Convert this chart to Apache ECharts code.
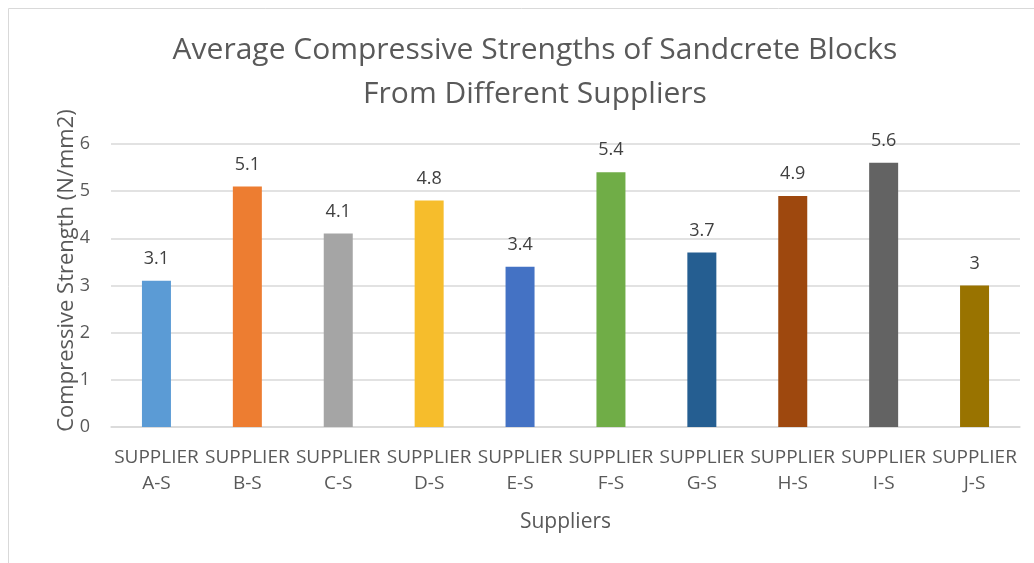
<!DOCTYPE html>
<html><head><meta charset="utf-8">
<script src="https://cdn.jsdelivr.net/npm/echarts@6/dist/echarts.min.js"></script>
<style>html,body{margin:0;padding:0;background:#fff}#c{width:1034px;height:563px}</style>
</head><body><div id="c"></div>
<script>
const categories = ["SUPPLIER\nA-S","SUPPLIER\nB-S","SUPPLIER\nC-S","SUPPLIER\nD-S","SUPPLIER\nE-S","SUPPLIER\nF-S","SUPPLIER\nG-S","SUPPLIER\nH-S","SUPPLIER\nI-S","SUPPLIER\nJ-S"];
const values = [3.1, 5.1, 4.1, 4.8, 3.4, 5.4, 3.7, 4.9, 5.6, 3];
const barColors = ["#5b9bd5","#ed7d31","#a5a5a5","#f6bd2c","#4472c4","#70ad47","#255e91","#9e480e","#636363","#997300"];
const titleText = "Average Compressive Strengths of Sandcrete Blocks\nFrom Different Suppliers";
const yName = "Compressive Strength (N/mm2)";
const xName = "Suppliers";
const font = "'Open Sans', sans-serif";
const chart = echarts.init(document.getElementById('c'));
chart.setOption({
  animation: false,
  graphic: [{type:'rect', shape:{x:8.5,y:8.5,width:1040,height:600}, style:{fill:'none', stroke:'#d9d9d9', lineWidth:1}}],
  title: {text: titleText, left: 530, textAlign:'center', top: 23,
    textStyle:{fontFamily: font, fontSize: 30, fontWeight:'normal', color:'#595959', lineHeight: 44}},
  grid: {left: 111, right: 14, top: 144, bottom: 136},
  xAxis: {type:'category', data: categories, name: xName, nameLocation:'middle', nameGap: 85,
    nameTextStyle:{fontFamily: font, fontSize: 21, color:'#595959'},
    axisLine:{lineStyle:{color:'#d9d9d9', width:1.5}}, axisTick:{show:false},
    axisLabel:{interval:0, fontFamily: font, fontSize: 19, color:'#595959', lineHeight: 26, margin: 18}},
  yAxis: {type:'value', min:0, max:6, interval:1, name: yName, nameLocation:'middle', nameGap: 33,
    nameMoveOverlap: false,
    nameTextStyle:{fontFamily: font, fontSize: 22, color:'#595959', padding:[0,0,0,30]},
    axisLine:{show:false}, axisTick:{show:false},
    splitLine:{lineStyle:{color:'#d9d9d9', width:1.5}},
    axisLabel:{fontFamily: font, fontSize: 18, color:'#595959', margin: 21}},
  series: [{type:'bar', barWidth: 29,
    data: values.map((v,i)=>({value:v, itemStyle:{color: barColors[i]}})),
    label:{show:true, position:'top', distance: 13, fontFamily: font, fontSize: 18, color:'#404040'}}]
});
</script></body></html>
